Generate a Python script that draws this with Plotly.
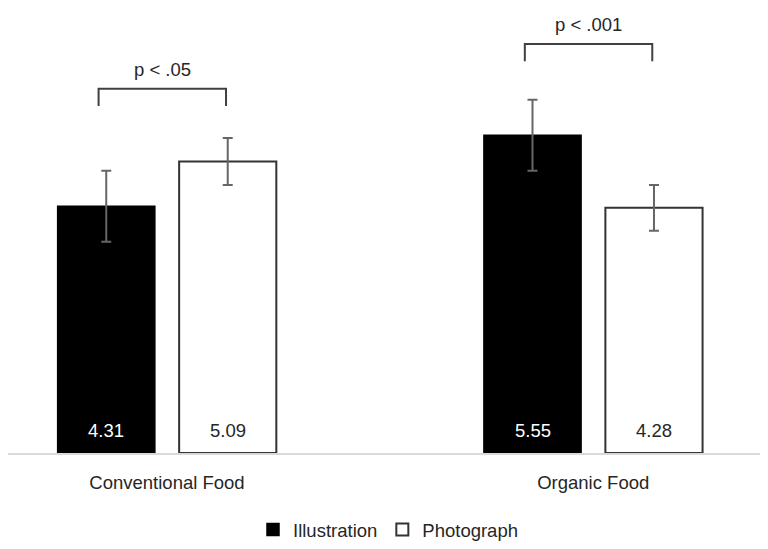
import plotly.graph_objects as go

categories = ["Conventional Food", "Organic Food"]
series_names = ["Illustration", "Photograph"]
illustration_means = [4.31, 5.55]
illustration_err = [0.62, 0.62]
photograph_means = [5.09, 4.28]
photograph_err = [0.41, 0.40]
p_labels = ["p < .05", "p < .001"]
bracket_y = [6.36, 7.14]
bracket_leg = 0.30

FONT = "Liberation Sans, Arial, sans-serif"
FS = 18.5
TXT = "#262626"
BARGAP = 0.43
BARGROUPGAP = 0.2

fig = go.Figure()
fig.add_trace(go.Bar(
    name=series_names[0], x=categories, y=illustration_means,
    marker=dict(color="black", line=dict(color="black", width=1.5)),
    error_y=dict(type="data", array=illustration_err, color="#666666", thickness=2, width=5),
))
fig.add_trace(go.Bar(
    name=series_names[1], x=categories, y=photograph_means,
    marker=dict(color="white", line=dict(color="#333333", width=2)),
    error_y=dict(type="data", array=photograph_err, color="#666666", thickness=2, width=5),
))

# bar centre offsets (in category units) derived from the grouping gaps
slot = (1 - BARGAP) / 2
offsets = [-slot / 2, slot / 2]

annotations = []
for i, cat in enumerate(categories):
    for j, (vals, col) in enumerate([(illustration_means, "white"), (photograph_means, TXT)]):
        annotations.append(dict(
            x=i + offsets[j], y=0, xref="x", yref="y", text=f"{vals[i]:.2f}",
            showarrow=False, yanchor="bottom", yshift=10,
            font=dict(family=FONT, size=FS, color=col)))

shapes = []
for i in range(len(categories)):
    x0 = i + offsets[0] - 0.018
    x1 = i + offsets[1] - 0.004
    yb = bracket_y[i]
    shapes.append(dict(type="path", xref="x", yref="y",
                       path=f"M {x0},{yb - bracket_leg} L {x0},{yb} L {x1},{yb} L {x1},{yb - bracket_leg}",
                       line=dict(color="#404040", width=2)))
    annotations.append(dict(
        x=(x0 + x1) / 2, y=yb, xref="x", yref="y", text=p_labels[i],
        showarrow=False, yanchor="bottom", yshift=7,
        font=dict(family=FONT, size=FS, color=TXT)))

fig.update_layout(
    width=760, height=541,
    margin=dict(l=0, r=0, t=4, b=91),
    paper_bgcolor="white", plot_bgcolor="white",
    barmode="group", bargap=BARGAP, bargroupgap=BARGROUPGAP,
    font=dict(family=FONT, size=FS, color=TXT),
    showlegend=True,
    legend=dict(orientation="h", x=0.5, xanchor="center", y=-0.175, yanchor="middle",
                font=dict(family=FONT, size=FS, color=TXT), itemwidth=30),
    annotations=annotations,
    shapes=shapes,
)
fig.update_xaxes(type="category", range=[-0.373, 1.41], showline=True, linecolor="#d9d9d9",
                 linewidth=2, ticks="", showgrid=False, ticklabelstandoff=12,
                 tickfont=dict(family=FONT, size=FS, color=TXT))
fig.update_yaxes(range=[0, 7.70], visible=False, showgrid=False, zeroline=False)

fig.write_html("out.html")
